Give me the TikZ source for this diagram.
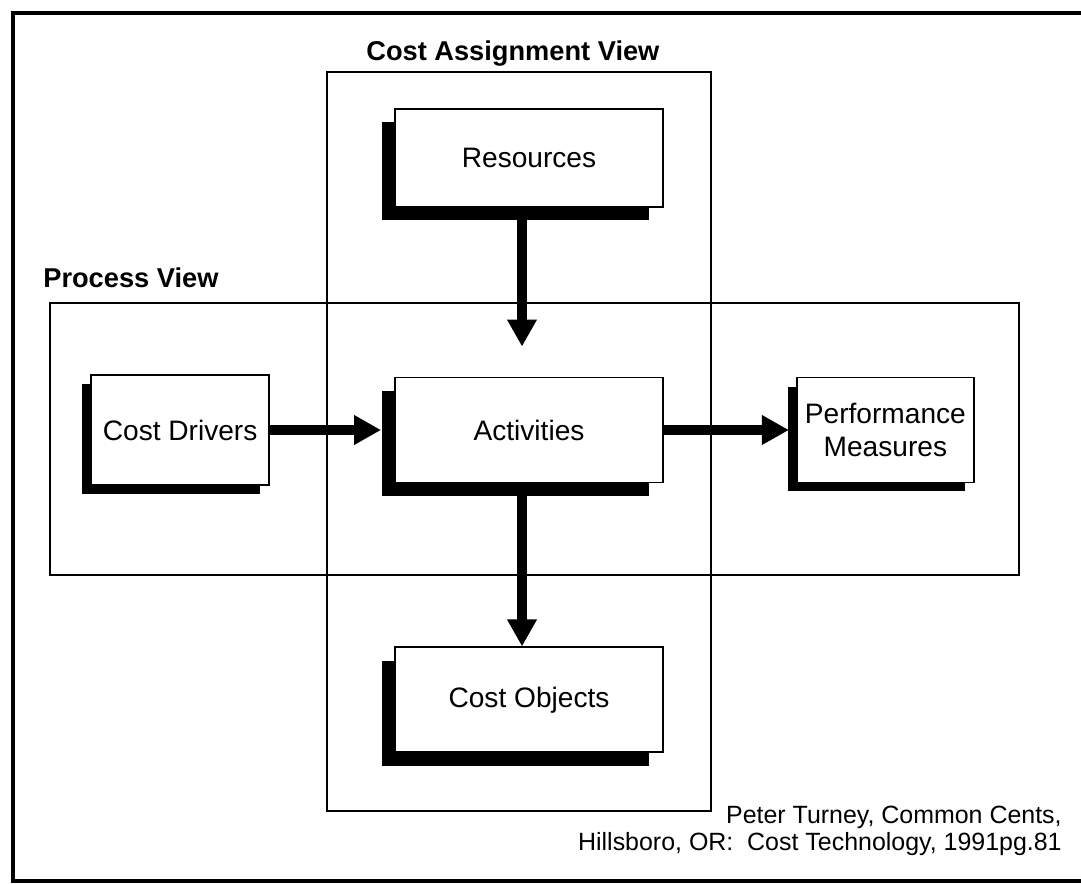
\documentclass[tikz,border=0pt]{standalone}
\usepackage{fontspec}
\setmainfont{Liberation Sans}
\usetikzlibrary{arrows.meta,positioning,shadows}

\begin{document}
\begin{tikzpicture}[
  x=0.02cm, y=-0.02cm,
  font=\fontsize{16}{19}\selectfont,
  box/.style={draw=black, line width=1.1pt, fill=white, align=center, inner sep=2pt},
  bigbox/.style={box, minimum width=5.36cm, minimum height=2.1cm,
    drop shadow={shadow xshift=-0.27cm, shadow yshift=-0.27cm, fill=black, opacity=1}},
  smallbox/.style={box, minimum width=3.56cm, minimum height=2.2cm,
    drop shadow={shadow xshift=-0.18cm, shadow yshift=-0.18cm, fill=black, opacity=1}},
  frame/.style={draw=black, line width=1.1pt},
  viewlabel/.style={font=\fontsize{15.5}{18}\selectfont\bfseries, anchor=base west, inner sep=0pt},
  flow/.style={-{Triangle[length=0.54cm, width=0.56cm]}, line width=0.2cm, draw=black}
]
\fill[white] (0,0) rectangle (1081,883);
\useasboundingbox (0,0) rectangle (1081,883);

% outer frame and the two views
\draw[line width=1.8pt] (1081,13) -- (13,13) -- (13,881) -- (1081,881);
\draw[frame] (327,72) rectangle (711,811);
\draw[frame] (50,303) rectangle (1019,575);
\node[viewlabel] (assignlabel) at (366,60) {Cost Assignment View};
\node[viewlabel] (processlabel) at (43,287) {Process View};

% boxes
\node[bigbox] (activities) at (529,430) {Activities};
\node[bigbox, minimum height=1.96cm, above=3.38cm of activities] (resources) {Resources};
\node[bigbox, below=3.26cm of activities] (objects) {Cost Objects};
\node[smallbox, left=2.48cm of activities] (drivers) {Cost Drivers};
\node[smallbox, minimum width=3.54cm, minimum height=2.1cm, right=2.64cm of activities] (measures) {Performance\\Measures};

\draw[flow, shorten >=0.6cm] ([xshift=-0.14cm]resources.south) -- ([xshift=-0.14cm]activities.north);
\draw[flow] ([xshift=-0.14cm]activities.south) -- ([xshift=-0.14cm]objects.north);
\draw[flow, shorten >=0.26cm] (drivers) -- (activities);
\draw[flow, shorten >=0.14cm] (activities) -- (measures);

% source
\node[anchor=north east, inner sep=0pt, align=right, font=\fontsize{14.2}{15.3}\selectfont] (source) at (1062,806)
  {Peter Turney, Common Cents,\\Hillsboro, OR:\ \ Cost Technology, 1991pg.81};
\end{tikzpicture}
\end{document}
